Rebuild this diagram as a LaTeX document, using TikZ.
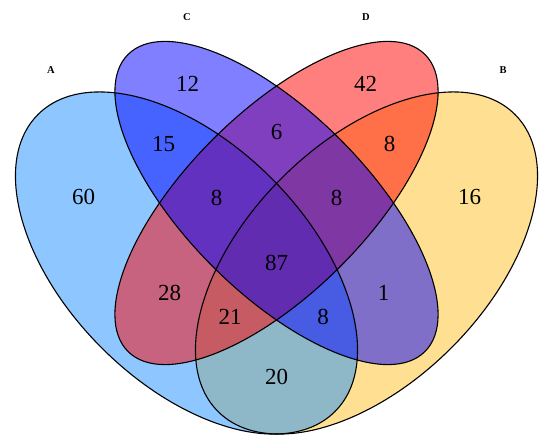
\documentclass[tikz,border=0pt]{standalone}
\usepackage{fontspec}
\setmainfont{Liberation Serif}
\definecolor{dodger}{RGB}{30,144,255}
\definecolor{golden}{RGB}{255,193,37}
\definecolor{pureblue}{RGB}{0,0,255}
\definecolor{purered}{RGB}{255,0,0}
\begin{document}
\begin{tikzpicture}[x=1pt,y=1pt,
  num/.style={font=\fontsize{23}{27}\selectfont, text=black, inner sep=0pt},
  setlab/.style={font=\fontsize{10.5}{12}\selectfont\bfseries, text=black, inner sep=0pt},
  outline/.style={draw=black, line width=1.1pt},
  venn/.style={fill opacity=0.5}]
\useasboundingbox (0,0) rectangle (550,446);
% fills (order B, A, D, C)
\fill[venn, fill=golden, rotate around={45:(366.5,183)}] (366.5,183) ellipse [x radius=210pt, y radius=120pt];
\fill[venn, fill=dodger, rotate around={-45:(186.5,183)}] (186.5,183) ellipse [x radius=210pt, y radius=120pt];
\fill[venn, fill=purered, rotate around={45:(276.5,243)}] (276.5,243) ellipse [x radius=210pt, y radius=90pt];
\fill[venn, fill=pureblue, rotate around={-45:(276.5,243)}] (276.5,243) ellipse [x radius=210pt, y radius=90pt];
% outlines
\draw[outline, rotate around={45:(366.5,183)}] (366.5,183) ellipse [x radius=210pt, y radius=120pt];
\draw[outline, rotate around={-45:(186.5,183)}] (186.5,183) ellipse [x radius=210pt, y radius=120pt];
\draw[outline, rotate around={45:(276.5,243)}] (276.5,243) ellipse [x radius=210pt, y radius=90pt];
\draw[outline, rotate around={-45:(276.5,243)}] (276.5,243) ellipse [x radius=210pt, y radius=90pt];
% set labels
\node[setlab] (labA) at (51,376) {A};
\node[setlab] (labC) at (187,429) {C};
\node[setlab] (labD) at (366,429) {D};
\node[setlab] (labB) at (503,376) {B};
% counts
\node[num] (n12) at (187.5,362.5) {12};
\node[num] (n42) at (365.5,362.5) {42};
\node[num] (n15) at (163.5,302) {15};
\node[num] (n6)  at (276.5,314) {6};
\node[num] (n8tr) at (389.5,302) {8};
\node[num] (n60) at (83.5,249) {60};
\node[num] (n8l) at (216.5,248) {8};
\node[num] (n8r) at (336.5,248) {8};
\node[num] (n16) at (469.5,249) {16};
\node[num] (n87) at (276.5,183) {87};
\node[num] (n28) at (169.5,153) {28};
\node[num] (n1)  at (383.5,153) {1};
\node[num] (n21) at (230,129.5) {21};
\node[num] (n8b) at (323,129.5) {8};
\node[num] (n20) at (276.5,69.5) {20};
\end{tikzpicture}
\end{document}
